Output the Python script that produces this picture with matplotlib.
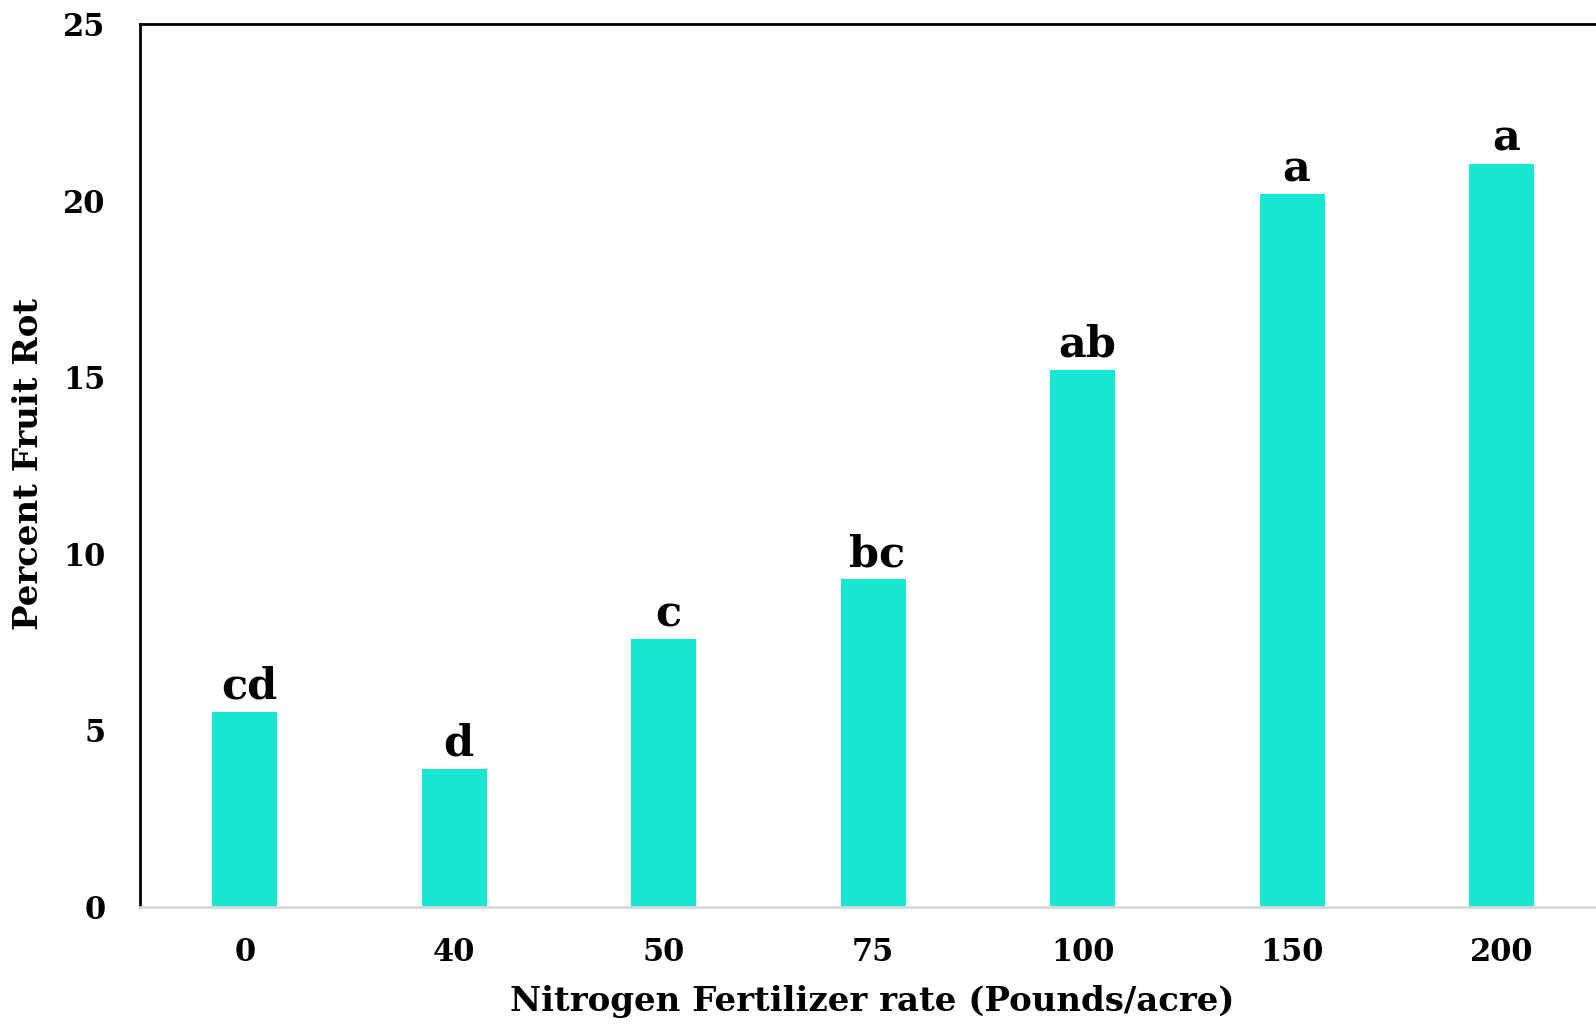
import matplotlib
matplotlib.use("Agg")
import matplotlib.pyplot as plt

categories = ["0", "40", "50", "75", "100", "150", "200"]
fruit_rot = [5.51, 3.91, 7.57, 9.27, 15.20, 20.18, 21.04]
letters = ["cd", "d", "c", "bc", "ab", "a", "a"]
yticks = [0, 5, 10, 15, 20, 25]

FONT = "DejaVu Serif"
W, H = 1596, 1025
fig = plt.figure(figsize=(W / 100, H / 100), dpi=100)
ax = fig.add_axes([140 / W, 1 - 906.7 / H, (1606.5 - 140) / W, (906.7 - 24) / H])

x = list(range(len(categories)))
ax.bar(x, fruit_rot, width=0.31, color="#19E6D0", zorder=2)

for xi, v, lab in zip(x, fruit_rot, letters):
    ax.annotate(lab, (xi, v), xytext=(3, 3), textcoords="offset points",
                ha="center", va="bottom", fontsize=31, fontweight="bold",
                family=FONT, color="black")

ax.set_xlim(-0.5, len(categories) - 0.5)
ax.set_ylim(0, 25)
ax.set_yticks(yticks)
ax.set_yticklabels([str(t) for t in yticks])
ax.set_xticks(x)
ax.set_xticklabels(categories)
ax.tick_params(axis="both", length=0, labelsize=22)
ax.tick_params(axis="y", pad=25)
ax.tick_params(axis="x", pad=22)
for lab in ax.get_xticklabels() + ax.get_yticklabels():
    lab.set_family(FONT)
    lab.set_fontweight("bold")

ax.spines["left"].set_color("black")
ax.spines["left"].set_linewidth(2)
ax.spines["top"].set_color("black")
ax.spines["top"].set_linewidth(2)
ax.spines["right"].set_color("black")
ax.spines["right"].set_linewidth(2)
ax.spines["bottom"].set_color("#d9d9d9")
ax.spines["bottom"].set_linewidth(2)

fig.text(28.5 / W, 1 - 464 / H, "Percent Fruit Rot", rotation=90, ha="center",
         va="center", fontsize=24.5, fontweight="bold", family=FONT)
fig.text(872 / W, 1 - 1002 / H, "Nitrogen Fertilizer rate (Pounds/acre)",
         ha="center", va="center", fontsize=24.5, fontweight="bold", family=FONT)

fig.savefig("out.png", dpi=100)
